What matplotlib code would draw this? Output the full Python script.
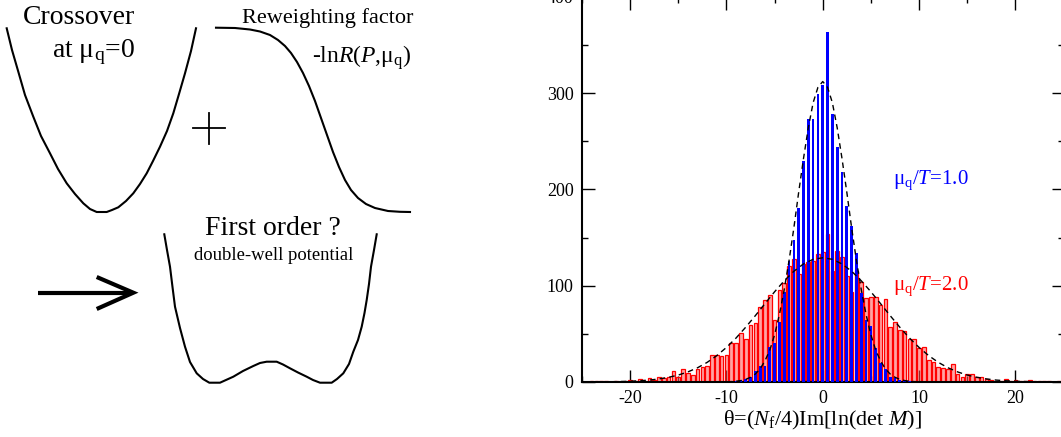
import numpy as np
import matplotlib
matplotlib.use("Agg")
import matplotlib.pyplot as plt
from matplotlib.ticker import MultipleLocator

plt.rcParams['font.family'] = 'Liberation Serif'
plt.rcParams['mathtext.fontset'] = 'custom'
plt.rcParams['mathtext.rm'] = 'Liberation Serif'
plt.rcParams['mathtext.it'] = 'Liberation Serif:italic'
plt.rcParams['axes.unicode_minus'] = False

# histogram of theta, bins of width 0.5
blue_theta = np.arange(-9, 9.01, 0.5)
blue_counts = [1, 2, 3, 5, 11, 17, 17, 36, 40, 62, 93, 126, 147, 181, 230, 273, 273, 299,
               308, 363, 278, 244, 218, 183, 162, 134, 92, 64, 58, 35, 20, 13, 5, 4, 2, 1, 1]

red_theta = np.arange(-24, 24.51, 0.5)
red_counts = [1, 1, 1, 1, 0, 1, 0, 0,
              2, 1, 3, 1, 4, 2, 5, 4,
              5, 11, 5, 14, 9, 7, 14, 16,
              17, 28, 28, 27, 28, 40, 41, 51,
              45, 59, 61, 78, 85, 90, 64, 96,
              103, 120, 128, 112, 123, 125, 126, 133,
              135, 154, 115, 136, 130, 110, 93, 115,
              104, 87, 88, 88, 80, 86, 57, 62,
              54, 53, 45, 45, 35, 36, 23, 21,
              16, 15, 14, 19, 8, 5, 8, 8,
              5, 5, 3, 2, 1, 1, 3, 1,
              2, 1, 1, 2, 1, 1, 1, 1,
              0, 1]

# dashed fit curves
blue_fit_x = np.arange(-10, 10.01, 0.5)
blue_fit_y = [0.2, 0.4, 0.8, 1.5, 2.7, 4.9, 8.3, 13.7, 22, 33, 49, 70, 96, 126, 160, 197, 232, 264, 290, 306,
              312,
              306, 290, 264, 232, 197, 160, 126, 96, 70, 49, 33, 22, 13.7, 8.3, 4.9, 2.7, 1.5, 0.8, 0.4, 0.2]
red_fit_x = np.arange(-25, 25.01, 1)
red_fit_y = [0.04, 0.08, 0.15, 0.27, 0.5, 0.8, 1.3, 2.0, 3.2, 4.9, 7.2, 10.5, 14.8, 20.4, 27.4, 35.9,
             45.7, 56.9, 68.9, 81.4, 93.7, 105.1, 115.0, 122.6, 127.4,
             129,
             127.4, 122.6, 115.0, 105.1, 93.7, 81.4, 68.9, 56.9, 45.7, 35.9, 27.4, 20.4, 14.8, 10.5,
             7.2, 4.9, 3.2, 2.0, 1.3, 0.8, 0.5, 0.27, 0.15, 0.08, 0.04]

# schematic on the left (pixel coordinates of the drawing)
crossover_x = [6.7, 12, 18.3, 25, 33.3, 41, 50, 58, 66.7, 75, 83.3, 90, 96.7, 106.7, 112, 118.3, 126,
               133.3, 140, 146.7, 153, 160, 167, 173.3, 179, 185, 191, 196]
crossover_y = [28.3, 50, 71.7, 95, 116.7, 136, 153.3, 169, 183.3, 194, 203.3, 209, 212, 212, 210, 207.3,
               201, 193.3, 184, 173.3, 161, 146.7, 131, 113.3, 94, 73.3, 51, 28.3]
reweight_x = [216, 235, 250, 260, 270, 278, 285, 291, 297, 303, 309, 315, 321, 327, 333, 339, 345, 351,
              358, 366, 375, 388, 400, 410]
reweight_y = [27.7, 28, 29.5, 31.5, 35, 40, 46, 53, 62, 73, 86, 101, 118, 135, 152, 167, 180, 190,
              198, 204, 208, 211, 211.8, 212]
dwell_x = [164.3, 167, 170, 172.5, 175, 180, 185, 190, 196.7, 203, 209.3, 220, 233.3, 243, 253.3, 260,
           266.7, 276.7, 283, 290, 298, 306.7, 313, 320, 331.7, 337, 343.3, 349, 353.3, 358, 361.7,
           364.5, 366.7, 369, 371, 374, 376.7]
dwell_y = [234.3, 250, 266.7, 287, 306.7, 328, 346.7, 362, 373.3, 379, 382.7, 382.7, 376.7, 371, 366,
           363, 361.7, 361.7, 364.5, 368.3, 372.5, 376.7, 380, 382.7, 382.7, 379, 373.3, 364, 351.7, 340,
           326.7, 313, 300, 284, 266.7, 250, 234.3]
plus_h = ([193, 225], [128.3, 128.3])
plus_v = ([209.3, 209.3], [112.7, 144])
arrow_shaft = ([38.3, 130], [292.7, 292.7])
arrow_head = ([96.7, 133.3, 96.7], [277, 292.7, 309])

fig = plt.figure(figsize=(10.61, 4.37), dpi=100)

ax0 = fig.add_axes([0, 0, 1, 1])
ax0.set_xlim(0, 1061)
ax0.set_ylim(437, 0)
ax0.axis('off')
ax0.plot(crossover_x, crossover_y, color='black', lw=1.5)
ax0.plot(reweight_x, reweight_y, color='black', lw=1.5)
ax0.plot(dwell_x, dwell_y, color='black', lw=1.5)
ax0.plot(*plus_h, color='black', lw=1.3)
ax0.plot(*plus_v, color='black', lw=1.3)
ax0.plot(*arrow_shaft, color='black', lw=3, solid_capstyle='butt')
ax0.plot(*arrow_head, color='black', lw=3, solid_joinstyle='miter', solid_capstyle='butt')
ax0.text(79, 24, 'Crossover', fontsize=20, ha='center', va='baseline')
ax0.text(93, 56.7, 'at μ$_\\mathrm{q}$=0', fontsize=20, ha='center', va='baseline')
ax0.text(328, 23.3, 'Reweighting factor', fontsize=16, ha='center', va='baseline')
ax0.text(362, 62.7, '-ln$R$($P$,μ$_\\mathrm{q}$)', fontsize=17, ha='center', va='baseline')
ax0.text(272.5, 235, 'First order ?', fontsize=20, ha='center', va='baseline')
ax0.text(273.5, 260, 'double-well potential', fontsize=13.4, ha='center', va='baseline')

ax = fig.add_axes([582 / 1061, 55 / 437, 481.5 / 1061, 385.2 / 437])
ax.bar(red_theta, red_counts, width=0.38, facecolor=(1, 0.35, 0.35, 0.55), edgecolor='red', lw=0.9, zorder=2)
ax.bar(blue_theta, blue_counts, width=0.28, color='blue', zorder=3)
ax.plot(blue_fit_x, blue_fit_y, color='black', ls='--', lw=1, dashes=(4, 3), zorder=4)
ax.plot(red_fit_x, red_fit_y, color='black', ls='--', lw=1, dashes=(4, 3), zorder=4)

ax.set_xlim(-25, 25)
ax.set_ylim(0, 400)
ax.xaxis.set_major_locator(MultipleLocator(10))
ax.xaxis.set_minor_locator(MultipleLocator(5))
ax.yaxis.set_major_locator(MultipleLocator(100))
ax.yaxis.set_minor_locator(MultipleLocator(50))
ax.tick_params(which='both', direction='in', top=True, right=True, width=1, labelsize=13, pad=6)
ax.tick_params(which='major', length=9)
ax.tick_params(which='minor', length=4.5)
for s in ax.spines.values():
    s.set_linewidth(1.5)

ax.set_xlabel('θ=($N_\\mathrm{f}$/4)Im[ln(det $M$)]', fontsize=16, labelpad=1)
ax.text(7.33, 206, 'μ$_\\mathrm{q}$/$T$=1.0', color='blue', fontsize=15, va='baseline')
ax.text(7.33, 95.5, 'μ$_\\mathrm{q}$/$T$=2.0', color='red', fontsize=15, va='baseline')

fig.savefig('out.png', dpi=100)
